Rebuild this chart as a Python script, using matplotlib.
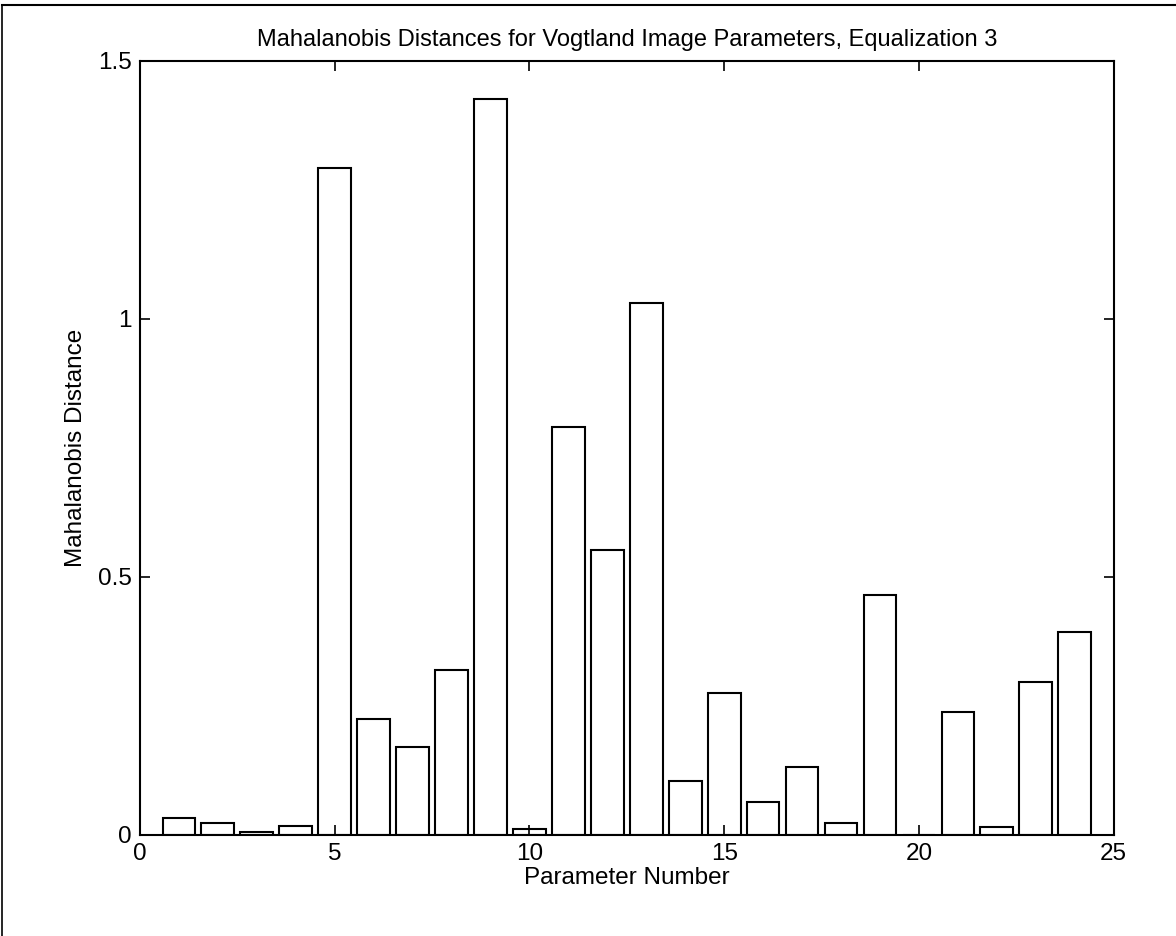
import matplotlib
matplotlib.use("Agg")
import matplotlib.pyplot as plt
from matplotlib.lines import Line2D

params = list(range(1, 25))
distances = [0.032, 0.024, 0.006, 0.017, 1.292, 0.224, 0.171, 0.320,
             1.427, 0.011, 0.790, 0.552, 1.030, 0.105, 0.275, 0.063,
             0.132, 0.024, 0.465, 0.0, 0.239, 0.016, 0.297, 0.393]
xticks = [0, 5, 10, 15, 20, 25]
yticks = [0, 0.5, 1, 1.5]
ytick_labels = ["0", "0.5", "1", "1.5"]

plt.rcParams['font.family'] = ['Liberation Sans', 'DejaVu Sans']

fig = plt.figure(figsize=(11.76, 9.36), dpi=100)
ax = fig.add_axes([0.119, 0.108, 0.828, 0.827])

ax.bar(params, distances, width=0.84, facecolor="white", edgecolor="black", linewidth=1.5)

ax.set_xlim(0, 25)
ax.set_ylim(0, 1.5)
ax.set_xticks(xticks)
ax.set_yticks(yticks)
ax.set_yticklabels(ytick_labels)
ax.tick_params(direction="in", top=True, right=True, length=7, width=1.2,
               labelsize=17.5, pad=6)
for s in ax.spines.values():
    s.set_linewidth(1.5)

ax.set_title("Mahalanobis Distances for Vogtland Image Parameters, Equalization 3",
             fontsize=17, pad=11)
ax.set_xlabel("Parameter Number", fontsize=17.5, labelpad=1)
ax.set_ylabel("Mahalanobis Distance", fontsize=17.5, labelpad=8)

# page frame from the scan
fig.add_artist(Line2D([0.002, 1.0], [1 - 5 / 936, 1 - 5 / 936], color="black", lw=1.5))
fig.add_artist(Line2D([0.002, 0.002], [0.0, 1 - 5 / 936], color="black", lw=1.2))

fig.savefig("out.png", dpi=100)
